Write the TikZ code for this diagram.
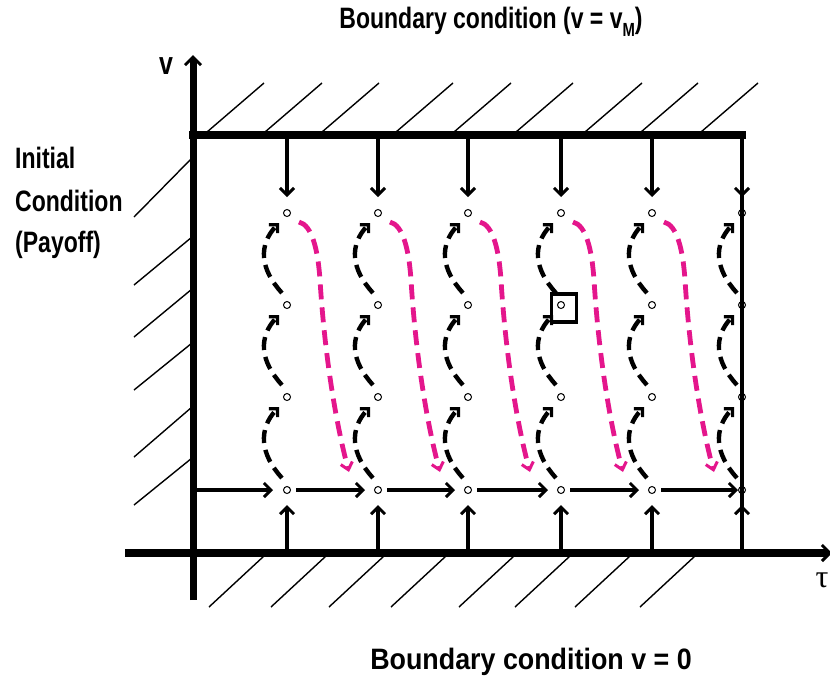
\documentclass[tikz,border=0pt]{standalone}
\usepackage{fontspec}
\setmainfont{Liberation Sans}
\newfontfamily\nsb{Liberation Sans Bold}[FakeStretch=0.78]
\newfontfamily\nsbw{Liberation Sans Bold}[FakeStretch=0.91]
\newfontfamily\tserif{Liberation Serif}
\usetikzlibrary{arrows.meta}
\definecolor{mag}{RGB}{228,22,140}
\begin{document}
\begin{tikzpicture}[x=1pt,y=-1pt,
  hatch/.style={line width=1.4pt},
  solidarr/.style={line width=3.6pt, -{Straight Barb[length=7pt,width=14pt,line width=3pt]}},
  blkdash/.style={line width=4.4pt, dash pattern=on 13pt off 7pt, -{Straight Barb[length=6pt,width=12pt,line width=3.2pt]}},
  magdash/.style={mag, line width=4.8pt, dash pattern=on 15pt off 8pt, -{Straight Barb[length=7pt,width=12pt,line width=3pt]}},
  dot/.style={circle, draw, line width=1pt, inner sep=0pt, minimum width=6pt, minimum height=7pt},
  lbl/.style={font=\nsb\fontsize{29.5}{34}\selectfont, inner sep=0pt}
]
\useasboundingbox (0,0) rectangle (830,681);

% hatching top
\foreach \h in {207,265,322,396,454,516,585,641,701}
  \draw[hatch] (\h,132) -- ++(57,-49);
% hatching left
\foreach \a/\b in {158/217,237/285,289/337,343/390,407/457,458/505}
  \draw[hatch] (192,\a) -- (134,\b);
% hatching bottom
\foreach \h in {264,326,384,446,514,570,630,695}
  \draw[hatch] (\h,556) -- ++(-55,51);

% grid points
\foreach \i/\x in {1/287,2/378,3/468,4/561,5/652,6/742} {
  \foreach \j/\y in {1/490,2/397,3/305,4/213} {
    \node[dot] (o-\i-\j) at (\x,\y) {};
  }
  \coordinate (t-\i) at (\x,139);
  \coordinate (b-\i) at (\x,549);
}
\coordinate (l-0) at (196,490);
\coordinate (ax-b) at (193,600);
\coordinate (ax-t) at (193,55);
\coordinate (h-l) at (125,553);
\coordinate (h-r) at (832,553);
\coordinate (tl-l) at (189,135);
\coordinate (tl-r) at (746,135);
\coordinate (rl-t) at (742,132);
\coordinate (rl-b) at (742,553);

% axes and boundary lines
\draw[line width=7pt, -{Straight Barb[length=8pt,width=16pt,line width=3pt]}] (ax-b) -- (ax-t);
\draw[line width=8pt, -{Straight Barb[length=8pt,width=16pt,line width=3pt]}] (h-l) -- (h-r);
\draw[line width=8pt] (tl-l) -- (tl-r);
\draw[line width=3.8pt] (rl-t) -- (rl-b);

% down and up arrows
\foreach \i in {1,...,6} {
  \draw[solidarr, shorten >=12pt] (t-\i) -- (o-\i-4);
  \draw[solidarr, shorten >=11pt] (b-\i) -- (o-\i-1);
}

% horizontal arrows
\draw[solidarr, line width=4.2pt, shorten >=10pt] (l-0) -- (o-1-1);
\foreach \i/\k in {1/2,2/3,3/4,4/5}
  \draw[solidarr, line width=4.2pt, shorten <=5pt, shorten >=9pt] (o-\i-1) -- (o-\k-1);
\draw[solidarr, line width=4.2pt, shorten <=5pt, shorten >=4pt] (o-5-1) -- (o-6-1.center);

% black dashed arcs
\foreach \i in {1,...,6}
  \foreach \j/\k in {1/2,2/3,3/4}
    \draw[blkdash] ([shift={(-5,-12)}]o-\i-\j.center) .. controls +(-22,-24) and +(-21,22) .. ([shift={(-8,10)}]o-\i-\k.center);

% magenta dashed curves
\foreach \i in {1,...,5}
  \draw[magdash] ([shift={(12,9)}]o-\i-4.center) .. controls +(13,3) and +(-2,-30) .. ([shift={(33,67)}]o-\i-4.center) .. controls +(5,80) and +(-12,-44) .. ([shift={(62,259)}]o-\i-4.center);

% square
\node[draw, line width=3.2pt, minimum width=25pt, minimum height=28pt, inner sep=0pt] (sq) at ([shift={(3,3)}]o-4-3.center) {};

% labels
\node[lbl] (title) at (491,22) {Boundary condition (v = v\raisebox{-0.28em}{\fontsize{19}{20}\selectfont M})};
\node[lbl, font=\nsbw\fontsize{29.5}{34}\selectfont] (bottom) at (531,662) {Boundary condition v = 0};
\node[lbl, anchor=base west] (ic1) at (15,168) {Initial};
\node[lbl, anchor=base west] (ic2) at (15,211) {Condition};
\node[lbl, anchor=base west] (ic3) at (15,252) {(Payoff)};
\node[lbl, font=\nsb\fontsize{32}{34}\selectfont] (vlab) at (166,66) {v};
\node[inner sep=0pt, font=\tserif\fontsize{32}{34}\selectfont] (tau) at (822,580) {τ};
\end{tikzpicture}
\end{document}
